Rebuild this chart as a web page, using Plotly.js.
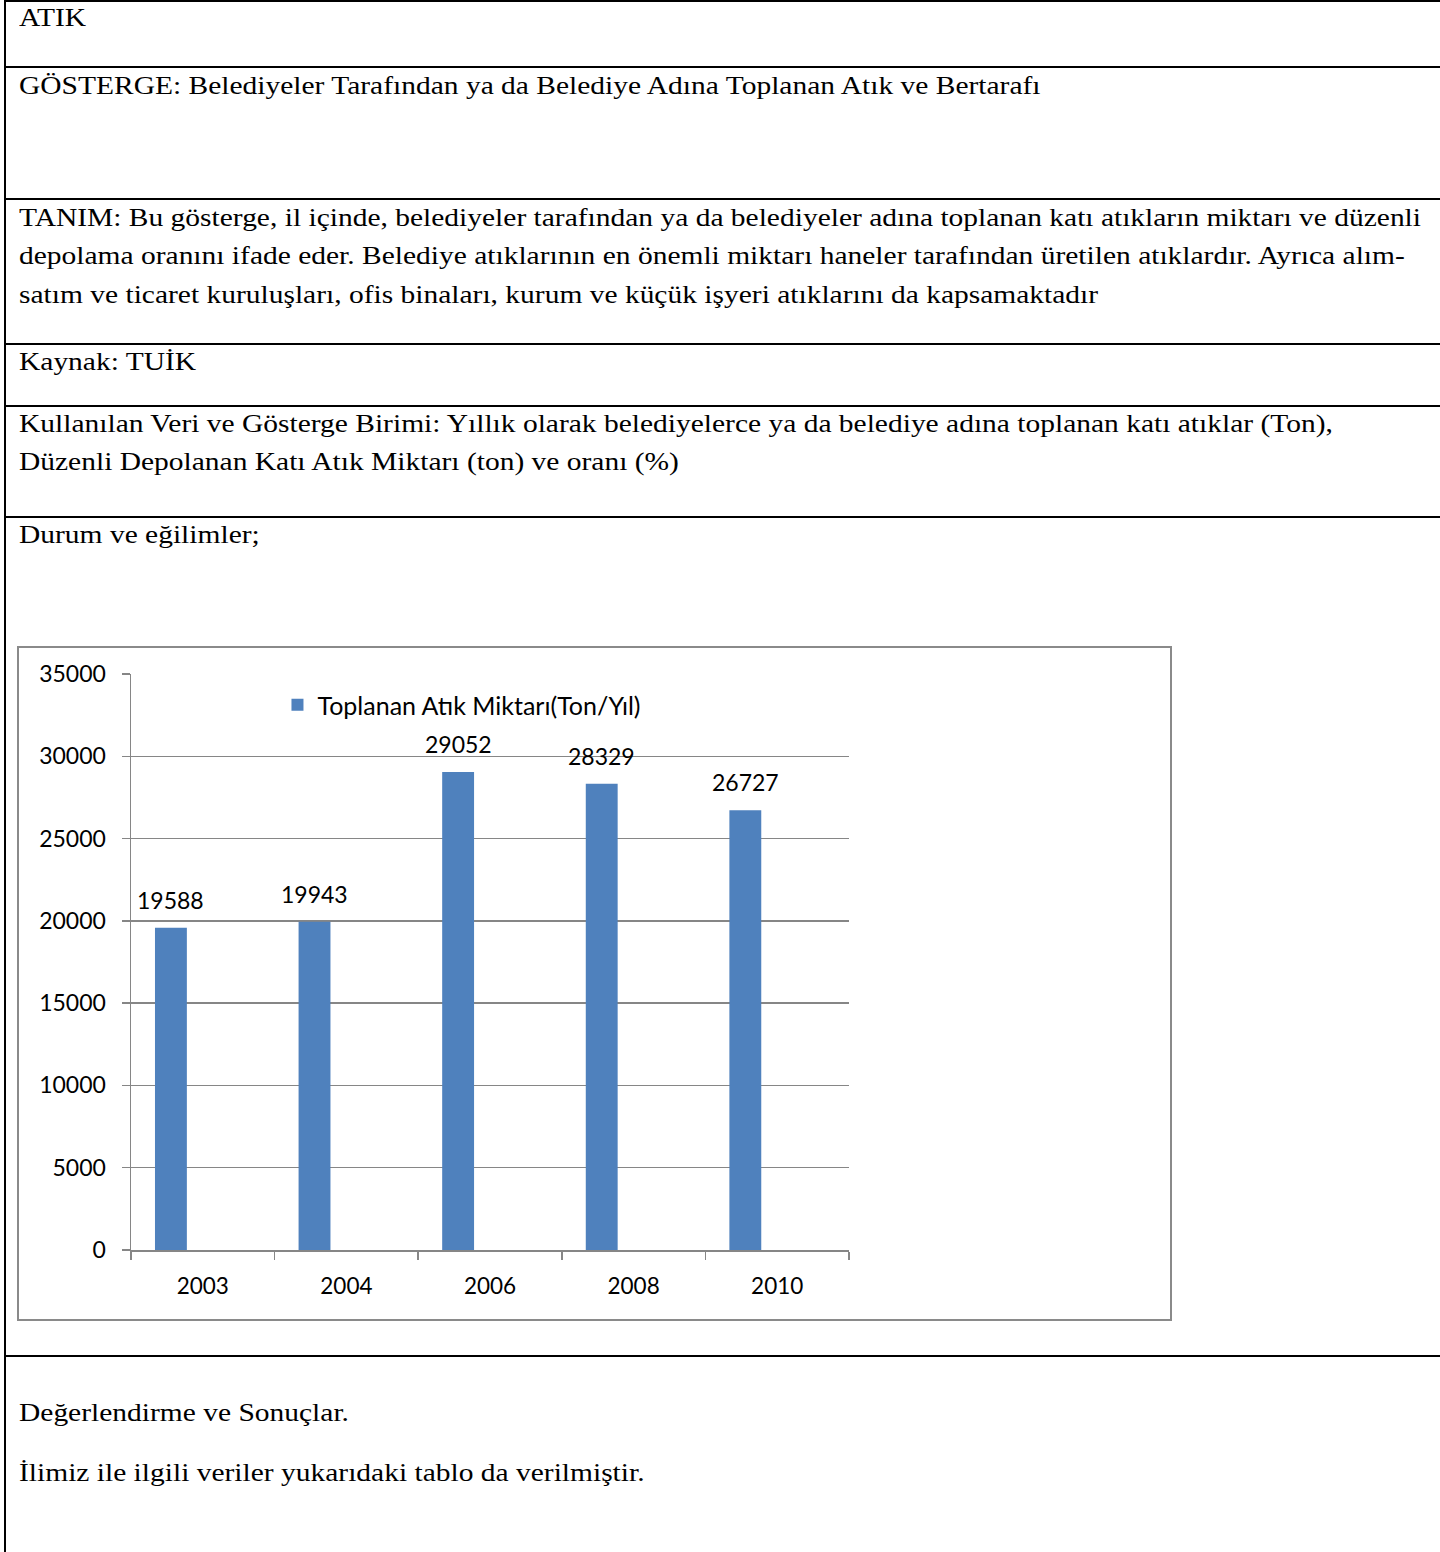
<!DOCTYPE html>
<html>
<head>
<meta charset="utf-8">
<script src="https://cdn.plot.ly/plotly-3.0.1.min.js"></script>
<style>
  html, body { margin: 0; padding: 0; background: #fff; }
  body { width: 1440px; height: 1552px; position: relative; overflow: hidden; }
  .hl { position: absolute; left: 4px; right: 0; height: 2px; background: #000; }
  .vl { position: absolute; left: 4px; top: 0; width: 2px; height: 1552px; background: #000; }
  .tx { position: absolute; left: 19px; font-family: "Liberation Serif", "Times New Roman", serif;
        font-size: 26px; line-height: 38px; white-space: nowrap; color: #000;
        transform: scaleX(1.134); transform-origin: 0 0; }
  #box { position: absolute; left: 17px; top: 646px; width: 1151px; height: 671px;
         border: 2px solid #8a8a8a; background: #fff; }
  #chart { width: 1151px; height: 671px; }
</style>
</head>
<body>
<div class="vl"></div>
<div class="hl" style="top:0px"></div>
<div class="hl" style="top:66px"></div>
<div class="hl" style="top:198px"></div>
<div class="hl" style="top:343px"></div>
<div class="hl" style="top:405px"></div>
<div class="hl" style="top:516px"></div>
<div class="hl" style="top:1355px"></div>

<div class="tx" style="top:-1px">ATIK</div>
<div class="tx" style="top:67px">GÖSTERGE: Belediyeler Tarafından ya da Belediye Adına Toplanan Atık ve Bertarafı</div>
<div class="tx" style="top:199px">TANIM: Bu gösterge, il içinde, belediyeler tarafından ya da belediyeler adına toplanan katı atıkların miktarı ve düzenli</div>
<div class="tx" style="top:237px">depolama oranını ifade eder. Belediye atıklarının en önemli miktarı haneler tarafından üretilen atıklardır. Ayrıca alım-</div>
<div class="tx" style="top:276px">satım ve ticaret kuruluşları, ofis binaları, kurum ve küçük işyeri atıklarını da kapsamaktadır</div>
<div class="tx" style="top:343px">Kaynak: TUİK</div>
<div class="tx" style="top:405px">Kullanılan Veri ve Gösterge Birimi: Yıllık olarak belediyelerce ya da belediye adına toplanan katı atıklar (Ton),</div>
<div class="tx" style="top:443px">Düzenli Depolanan Katı Atık Miktarı (ton) ve oranı (%)</div>
<div class="tx" style="top:516px">Durum ve eğilimler;</div>
<div class="tx" style="top:1394px">Değerlendirme ve Sonuçlar.</div>
<div class="tx" style="top:1454px">İlimiz ile ilgili veriler yukarıdaki tablo da verilmiştir.</div>

<div id="box"><div id="chart"></div></div>

<script>
const years = ["2003", "2004", "2006", "2008", "2010"];
const collectedWaste = [19588, 19943, 29052, 28329, 26727];
const seriesName = "Toplanan Atık Miktarı(Ton/Yıl)";
const yTicks = [0, 5000, 10000, 15000, 20000, 25000, 30000, 35000];

const gray = "#868686";
const fontFam = "Lato, 'Open Sans', sans-serif";

// bar geometry (style): first slot of a three-slot Excel group
const BAR_W = 0.222;
const BAR_OFF = -0.333;

const trace = {
  type: "bar",
  x: years,
  y: collectedWaste,
  name: seriesName,
  width: BAR_W,
  offset: BAR_OFF,
  marker: { color: "#4F81BD" },
  showlegend: true,
  hoverinfo: "x+y"
};

// value labels placed at the bar centre via the category axis
const annotations = years.map((yr, i) => ({
  x: i + BAR_OFF + BAR_W / 2, y: collectedWaste[i], xref: "x", yref: "y",
  text: String(collectedWaste[i]),
  showarrow: false, yanchor: "bottom", yshift: 12,
  font: { family: fontFam, size: 23, color: "#000" }
}));

const layout = {
  width: 1151, height: 671,
  margin: { l: 112, r: 321, t: 26, b: 69 },
  paper_bgcolor: "#fff", plot_bgcolor: "#fff",
  font: { family: fontFam, size: 22, color: "#000" },
  showlegend: true,
  legend: { x: 0.204, xanchor: "left", y: 0.946, yanchor: "middle",
            bgcolor: "rgba(0,0,0,0)", font: { family: fontFam, size: 25, color: "#000" } },
  xaxis: {
    type: "category", categoryarray: years, categoryorder: "array",
    range: [-0.5, years.length - 0.5], autorange: false,
    showline: true, linecolor: gray, linewidth: 1.5,
    ticks: "outside", tickson: "boundaries", ticklen: 8, tickcolor: gray, tickwidth: 1.5,
    showgrid: false, zeroline: false,
    ticklabelstandoff: 15,
    tickfont: { family: fontFam, size: 22.5, color: "#000" }
  },
  yaxis: {
    range: [0, 35000], autorange: false, tickvals: yTicks, ticktext: yTicks.map(String),
    showline: true, linecolor: gray, linewidth: 1.5,
    ticks: "outside", ticklen: 8, tickcolor: gray, tickwidth: 1.5,
    showgrid: true, gridcolor: gray, gridwidth: 1.5, zeroline: false,
    ticklabelstandoff: 11,
    tickfont: { family: fontFam, size: 23, color: "#000" }
  },
  annotations: annotations
};

Plotly.newPlot("chart", [trace], layout, { displayModeBar: false, staticPlot: true });
</script>
</body>
</html>
